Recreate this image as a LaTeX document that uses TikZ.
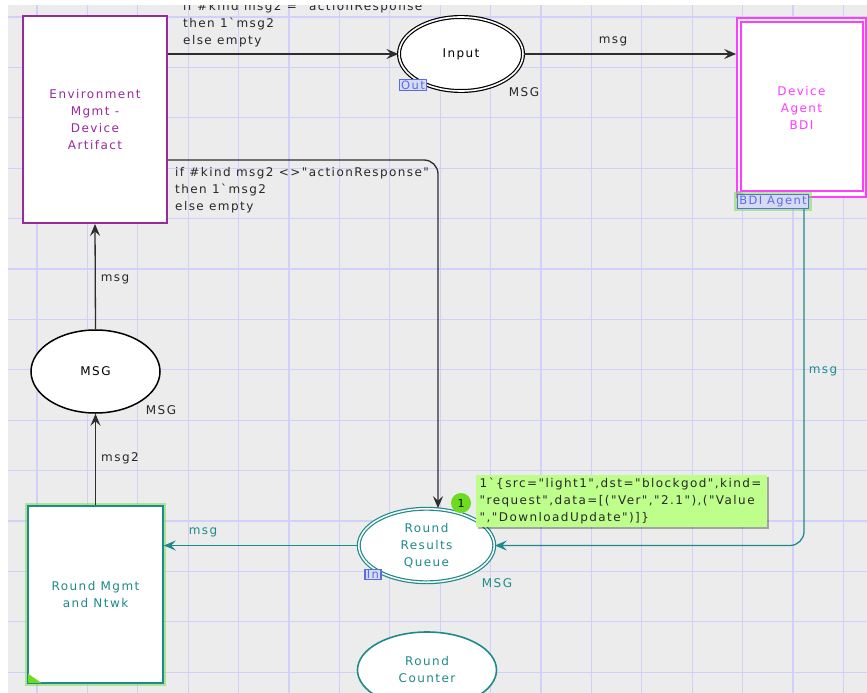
\documentclass[tikz,border=0pt]{standalone}
\usepackage{fontspec}
\setmainfont{DejaVu Sans}[LetterSpace=12, Ligatures=TeXOff]
\usetikzlibrary{arrows.meta,shapes.geometric,shadows}

\definecolor{canvasbg}{RGB}{236,236,236}
\definecolor{gridc}{RGB}{208,208,250}
\definecolor{envpurple}{RGB}{152,42,156}
\definecolor{devmag}{RGB}{255,60,255}
\definecolor{tealc}{RGB}{30,138,138}
\definecolor{glowgreen}{RGB}{120,220,80}
\definecolor{tagblue}{RGB}{90,110,225}
\definecolor{tagfill}{RGB}{215,218,245}
\definecolor{tokengreen}{RGB}{110,220,30}
\definecolor{markgreen}{RGB}{190,255,140}
\definecolor{arcgrey}{RGB}{45,45,45}
\definecolor{inkc}{RGB}{40,40,40}

\tikzset{
  transbox/.style={rectangle, fill=white, inner sep=0pt, align=center},
  placeell/.style={ellipse, fill=white, inner sep=0pt, align=center},
  porttag/.style={draw=tagblue, fill=tagfill, text=tagblue, line width=1.1pt,
    inner xsep=2pt, inner ysep=1.2pt, font=\fontsize{11.5}{11.5}\selectfont},
  arc/.style={line width=1.3pt, draw=arcgrey,
    -{Stealth[length=12pt,width=10pt,inset=4.5pt]}},
  tealarc/.style={arc, draw=tealc},
  lbl/.style={inner sep=0pt, align=left, text=inkc},
  glow/.style={preaction={draw=glowgreen, line width=6pt, opacity=.55}},
}

\begin{document}
\begin{tikzpicture}[x=1pt,y=-1pt,font=\fontsize{12}{17}\selectfont]
\useasboundingbox (0,0) rectangle (867,693);
\clip (0,0) rectangle (867,693);

% canvas and grid
\fill[canvasbg] (8,5) rectangle (867,693);
\foreach \i in {0,...,16}
  \draw[gridc, line width=1.3pt] ({37+50.4*\i},5) -- ({37+50.4*\i},693);
\foreach \j in {0,...,13}
  \draw[gridc, line width=1.3pt] (8,{17+50.4*\j}) -- (867,{17+50.4*\j});

% transitions
\node[transbox, draw=envpurple, line width=1.9pt, minimum width=144pt,
      minimum height=207pt, text=envpurple] (env) at (95,119.5)
      {Environment\\Mgmt -\\Device\\Artifact};

\node[transbox, draw=devmag, line width=1.7pt, minimum width=129pt,
      minimum height=179pt, text=devmag] (dev) at (801.5,107.5)
      {Device\\Agent\\BDI};
\draw[devmag, line width=1.7pt] ([shift={(5,5)}]dev.north west)
      rectangle ([shift={(-4,-7)}]dev.south east);

\node[transbox, draw=tealc, line width=1.6pt, minimum width=135pt,
      minimum height=177pt, text=tealc, glow] (rmgmt) at (95.5,594.5)
      {Round Mgmt\\and Ntwk};
\fill[tokengreen] ([shift={(1,-1)}]rmgmt.south west) -- ++(0,-9) -- ++(13,9) -- cycle;

% places
\node[placeell, draw=black, double=white, double distance=1.6pt,
      line width=1.2pt, minimum width=124pt, minimum height=74pt] (input)
      at (461,54) {Input};
\node[porttag] (outtag) at (413,85) {Out};
\node[lbl] (inputtype) at (524,92) {MSG};

\node[placeell, draw=black, line width=1.5pt, minimum width=129pt,
      minimum height=83pt] (msgp) at (95.5,371.5) {MSG};
\node[lbl] (msgptype) at (161,410) {MSG};

\node[placeell, draw=tealc, double=white, double distance=1.5pt,
      line width=1.2pt, minimum width=135.5pt, minimum height=73.5pt,
      text=tealc] (rrq) at (426.5,545.5) {Round\\Results\\Queue};
\node[porttag] (intag) at (373,574.5) {In};
\node[lbl, text=tealc] (rrqtype) at (497,583) {MSG};

\node[placeell, draw=tealc, line width=1.6pt, minimum width=139pt,
      minimum height=76pt, text=tealc] (rc) at (427,670) {Round\\Counter};

% port socket tag of the substitution transition
\fill[tagfill!60!gray] (737.5,190) -- (745,195) -- (737.5,195) -- cycle;
\node[porttag, glow] (bditag) at (773,201.5) {BDI Agent};

% arcs
\draw[arc] (env.east |- input.west) -- (input.west);
\node[lbl, anchor=west] (topexpr) at (183,24)
  {if \#kind msg2 = "actionResponse"\\then 1`msg2\\else empty};

\draw[arc] (input.east) -- (input.east -| dev.west);
\node[lbl] (msgtop) at (613,41) {msg};

\coordinate (bend) at (438,160);
\draw[arc, rounded corners=14pt] (env.east |- bend) -- (bend) -- (bend |- rrq.north);
\node[lbl, anchor=west] (midexpr) at (175,190)
  {if \#kind msg2 <>"actionResponse"\\then 1`msg2\\else empty};

\draw[tealarc, rounded corners=14pt] ([xshift=31pt]bditag.south) |- (rrq.east);
\node[lbl, text=tealc] (msgright) at (823,371) {msg};

\draw[tealarc] (rrq.west) -- (rrq.west -| rmgmt.east);
\node[lbl, text=tealc] (msgleft) at (203,532) {msg};

\draw[arc] (rmgmt.north) -- (msgp.south);
\node[lbl] (msgtwo) at (120,458) {msg2};

\draw[arc] (msgp.north) -- (env.south);
\node[lbl] (msgup) at (115,279) {msg};

% current marking of Round Results Queue
\node[circle, fill=tokengreen, minimum size=20pt, inner sep=0pt,
      font=\fontsize{11}{11}\selectfont] (tok) at (461,503) {1};
\node[fill=markgreen, anchor=north west, text width=284pt, inner xsep=3.5pt,
      inner ysep=3pt, align=left, text=inkc,
      drop shadow={shadow xshift=2pt, shadow yshift=-2pt, opacity=.3, fill=black}]
      (mark) at (476,475)
  {1`\{src="light1",dst="blockgod",kind=\\"request",data=[("Ver","2.1"),("Value\\","DownloadUpdate")]\}};

% white page margins
\fill[white] (0,0) rectangle (867,5);
\fill[white] (0,0) rectangle (8,693);
\end{tikzpicture}
\end{document}
